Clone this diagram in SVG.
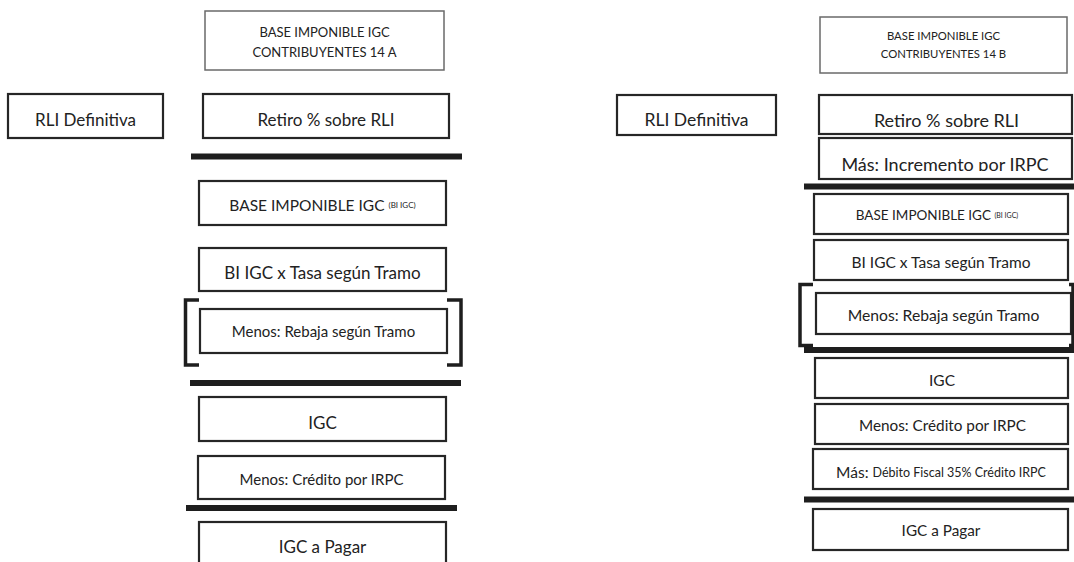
<svg xmlns="http://www.w3.org/2000/svg" width="1074" height="562" viewBox="0 0 1074 562">
<style>
.box{fill:#fff;stroke:#262626;stroke-width:2.2}
.thin{fill:#fff;stroke:#6a6a6a;stroke-width:1.5}
.bar{stroke:#1e1e1e;stroke-width:6;fill:none}
.br{stroke:#1e1e1e;stroke-width:3.5;fill:none}
text{font-family:Lato,"Open Sans","Liberation Sans",sans-serif;fill:#222;text-anchor:middle;dominant-baseline:central}
</style>
<defs>
<clipPath id="clipInc"><rect x="819" y="138" width="255" height="33"/></clipPath>
</defs>
<rect width="1074" height="562" fill="#fff"/>

<!-- Left column -->
<g id="a-title"><rect class="thin" x="205" y="11" width="239" height="59"/>
<text x="324.5" y="32" font-size="13">BASE IMPONIBLE IGC</text>
<text x="324.5" y="52" font-size="13">CONTRIBUYENTES 14 A</text></g>
<g id="a-rli"><rect class="box" x="8" y="94" width="155" height="44"/><text x="85.5" y="119" font-size="17">RLI Definitiva</text></g>
<g id="a-retiro"><rect class="box" x="203" y="94" width="246" height="44"/><text x="326" y="119" font-size="17">Retiro % sobre RLI</text></g>
<g id="a-base"><rect class="box" x="199" y="181" width="247" height="44"/><text x="322.5" y="205" font-size="15.5">BASE IMPONIBLE IGC <tspan font-size="8">(BI IGC)</tspan></text></g>
<g id="a-tasa"><rect class="box" x="199" y="248" width="247" height="43"/><text x="322.5" y="272" font-size="17">BI IGC x Tasa según Tramo</text></g>
<g id="a-rebaja"><rect class="box" x="200" y="309" width="247" height="44"/><text x="323.5" y="331" font-size="15">Menos: Rebaja según Tramo</text></g>
<g id="a-igc"><rect class="box" x="199" y="397" width="247" height="44"/><text x="322.5" y="422" font-size="17">IGC</text></g>
<g id="a-credito"><rect class="box" x="198" y="456" width="247" height="43"/><text x="321.5" y="479" font-size="15">Menos: Crédito por IRPC</text></g>
<g id="a-pagar"><rect class="box" x="199" y="522" width="247" height="50"/><text x="322.5" y="546" font-size="17">IGC a Pagar</text></g>

<!-- Right column -->
<g id="b-title"><rect class="thin" x="820" y="17" width="247" height="56"/>
<text x="943.5" y="35" font-size="11.3">BASE IMPONIBLE IGC</text>
<text x="943.5" y="53" font-size="11.3">CONTRIBUYENTES 14 B</text></g>
<g id="b-rli"><rect class="box" x="617" y="95" width="159" height="40"/><text x="696.5" y="119" font-size="17.5">RLI Definitiva</text></g>
<g id="b-retiro"><rect class="box" x="819" y="95" width="253" height="39"/><text x="946.5" y="120" font-size="18">Retiro % sobre RLI</text></g>
<g id="b-incremento"><rect class="box" x="819" y="138" width="253" height="41"/><text x="945" y="171" font-size="18" style="dominant-baseline:alphabetic" clip-path="url(#clipInc)">Más: Incremento por IRPC</text></g>
<g id="b-base"><rect class="box" x="814" y="194" width="254" height="40"/><text x="937" y="215" font-size="13.5">BASE IMPONIBLE IGC <tspan font-size="7">(BI IGC)</tspan></text></g>
<g id="b-tasa"><rect class="box" x="814" y="240" width="254" height="40"/><text x="941" y="262" font-size="15.5">BI IGC x Tasa según Tramo</text></g>
<g id="b-rebaja"><rect class="box" x="816" y="293" width="255" height="41"/><text x="943.5" y="315" font-size="15.7">Menos: Rebaja según Tramo</text></g>
<g id="b-igc"><rect class="box" x="815" y="358" width="253" height="40"/><text x="942" y="380" font-size="15.5">IGC</text></g>
<g id="b-credito"><rect class="box" x="815" y="404" width="253" height="40"/><text x="942.5" y="425" font-size="15.3">Menos: Crédito por IRPC</text></g>
<g id="b-debito"><rect class="box" x="813" y="449" width="255" height="40"/><text x="941" y="472" font-size="15.5">Más: <tspan font-size="12.5">Débito Fiscal 35% Crédito IRPC</tspan></text></g>
<g id="b-pagar"><rect class="box" x="813" y="509" width="255" height="41"/><text x="941" y="530" font-size="15.3">IGC a Pagar</text></g>

<g id="connectors">
<line class="bar" x1="191" y1="156.5" x2="462" y2="156.5"/>
<line class="bar" x1="190" y1="383" x2="461" y2="383" stroke-width="5"/>
<line class="bar" x1="186" y1="508" x2="457" y2="508"/>
<path class="br" d="M199,300 H185.5 V365 H199"/>
<path class="br" d="M447,300 H461 V365 H447"/>
<line class="bar" x1="804" y1="186.5" x2="1074" y2="186.5"/>
<line class="bar" x1="804" y1="350" x2="1074" y2="350" stroke-width="5"/>
<line class="bar" x1="804" y1="499.5" x2="1074" y2="499.5"/>
<path class="br" d="M813,284.5 H800 V345.5 H813"/>
<path class="br" d="M1069,284.5 H1073 V345.5 H1069"/>
</g>
</svg>
